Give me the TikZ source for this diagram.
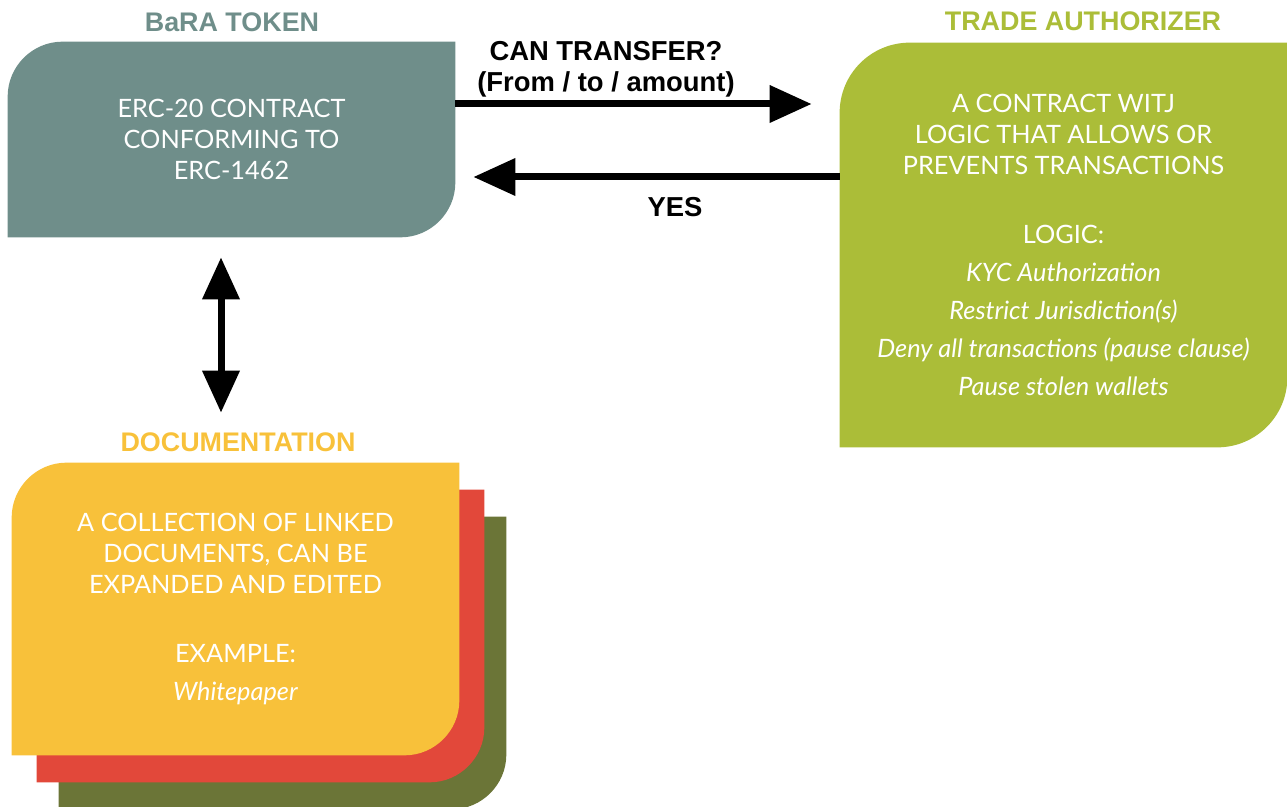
\documentclass[tikz,border=0pt]{standalone}
\usepackage{fontspec}
\setmainfont{Lato}
\newfontfamily\headfont{Liberation Sans}
\usetikzlibrary{arrows.meta, positioning, backgrounds, calc}
\definecolor{tokenteal}{RGB}{111, 142, 138}
\definecolor{authgreen}{RGB}{171, 189, 56}
\definecolor{docyellow}{RGB}{248, 193, 58}
\definecolor{docred}{RGB}{226, 72, 58}
\definecolor{docolive}{RGB}{107, 117, 55}

% 叶形底板：左上角、右下角为圆角
\newcommand{\leafpanel}[3]{%
  \fill[#2] ([yshift=-#3]#1.north west) arc[start angle=180, end angle=90, radius=#3]
    -- (#1.north east) -- ([yshift=#3]#1.south east) arc[start angle=0, end angle=-90, radius=#3]
    -- (#1.south west) -- cycle;}

\begin{document}
\begin{tikzpicture}[
  panel/.style={inner sep=0pt, minimum width=8.94cm, align=center, text=white,
    font=\fontsize{14.4}{17.6}\selectfont},
  sheet/.style={inner sep=0pt, minimum width=8.94cm, minimum height=5.84cm},
  head/.style={font=\headfont\bfseries\fontsize{15.3}{18}\selectfont},
  lbl/.style={font=\headfont\bfseries\fontsize{15.6}{17.4}\selectfont, align=center},
  flow/.style={line width=0.14cm, -{Triangle[length=0.84cm, width=0.72cm]}},
  both/.style={line width=0.14cm, {Triangle[length=0.84cm, width=0.72cm]}-{Triangle[length=0.84cm, width=0.72cm]}}
]
  % 与参考图同比例的 bounding box (1287 x 807)
  \useasboundingbox (0, 0) rectangle (25.74, -16.14);

  % 三块面板的文字
  \node[panel, minimum height=3.9cm] (tok) at (4.63, -2.79)
    {ERC-20 CONTRACT\\CONFORMING TO\\ERC-1462};
  \node[panel, minimum height=8.08cm] (auth) at (21.27, -4.9)
    {A CONTRACT WITJ\\LOGIC THAT ALLOWS OR\\PREVENTS TRANSACTIONS\\[22pt]
     LOGIC:\\[4pt]
     \textit{KYC Authorization}\\[4pt]
     \textit{Restrict Jurisdiction(s)}\\[4pt]
     \textit{Deny all transactions (pause clause)}\\[4pt]
     \textit{Pause stolen wallets}};
  \node[panel, minimum height=5.84cm] (doc) at (4.71, -12.18)
    {A COLLECTION OF LINKED\\DOCUMENTS, CAN BE\\EXPANDED AND EDITED\\[22pt]
     EXAMPLE:\\[4pt]
     \textit{Whitepaper}};

  % 文档后面的两张叠纸
  \node[sheet] (docB) at ($(doc) + (0.5, -0.54)$) {};
  \node[sheet] (docC) at ($(doc) + (0.94, -1.08)$) {};

  % 底色放到 background layer
  \begin{scope}[on background layer]
    \leafpanel{tok}{tokenteal}{1.1cm}
    \leafpanel{auth}{authgreen}{1.4cm}
    \leafpanel{docC}{docolive}{1.1cm}
    \leafpanel{docB}{docred}{1.1cm}
    \leafpanel{doc}{docyellow}{1.1cm}
  \end{scope}

  % 标题
  \node[head, text=tokenteal] (tokTitle) at (4.64, -0.44) {BaRA TOKEN};
  \node[head, text=authgreen] (authTitle) at (21.66, -0.42) {TRADE AUTHORIZER};
  \node[head, text=docyellow] (docTitle) at (4.76, -8.84) {DOCUMENTATION};

  % 请求 / 应答
  \coordinate (askOut) at ([yshift=0.71cm]tok.east);
  \coordinate (yesIn) at ([yshift=-0.75cm]tok.east);
  \draw[flow, shorten >=0.56cm] (askOut) -- (askOut -| auth.west);
  \draw[flow, shorten >=0.36cm] (yesIn -| auth.west) -- (yesIn);
  \node[lbl] (askLbl) at (12.12, -1.38) {CAN TRANSFER?\\(From / to / amount)};
  \node[lbl] (yesLbl) at (13.5, -4.14) {YES};

  % 代币 <-> 文档
  \coordinate (linkTop) at ([xshift=-0.21cm]tok.south);
  \draw[both, shorten <=0.4cm, shorten >=1.0cm] (linkTop) -- (linkTop |- doc.north);
\end{tikzpicture}
\end{document}
